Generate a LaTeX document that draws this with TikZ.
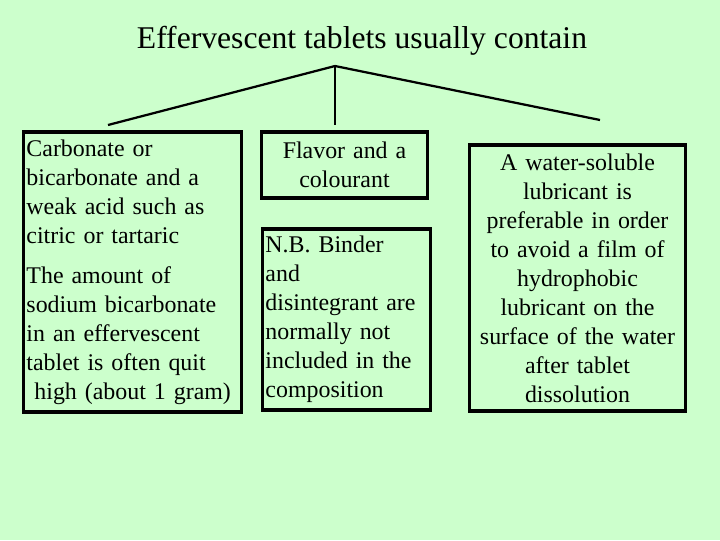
\documentclass[tikz,border=0pt]{standalone}
\usepackage{fontspec}
\setmainfont{Liberation Serif}
\definecolor{slidegreen}{RGB}{204,255,204}
\tikzset{
  box/.style={draw, line width=2.2pt, inner xsep=2pt, inner ysep=0pt, font=\fontsize{17}{20.6}\selectfont},
  branch/.style={line width=1.6pt}
}

\begin{document}
\begin{tikzpicture}[x=0.025cm, y=-0.025cm]
% Background
    \fill[slidegreen] (0,0) rectangle (720,540);
% Title
    \node[font=\fontsize{22.5}{27}\selectfont] (title) at (362,41) {Effervescent tablets usually contain};
% Boxes
    \node[box, minimum width=5.425cm, minimum height=7cm, text width=5.3cm, align=left] (acid) at (132.5,272)
        {Carbonate or\\bicarbonate and a\\weak acid such as\\citric or tartaric\\[8pt]
         The amount of\\sodium bicarbonate\\in an effervescent\\tablet is often quit\\\ high (about 1 gram)};
    \node[box, minimum width=4.125cm, minimum height=1.65cm, text width=4cm, align=center] (flavor) at (344.5,165)
        {Flavor and a\\colourant};
    \node[box, minimum width=4.175cm, minimum height=4.525cm, text width=4.05cm, align=left] (binder) at (346.5,319.5)
        {N.B. Binder\\and\\disintegrant are\\normally not\\included in the\\composition};
    \node[box, minimum width=5.375cm, minimum height=6.65cm, text width=5.25cm, align=center] (lubricant) at (577.5,278)
        {A water-soluble\\lubricant is\\preferable in order\\to avoid a film of\\hydrophobic\\lubricant on the\\surface of the water\\after tablet\\dissolution};
% Branches
    \coordinate (apex) at (335,66);
    \coordinate (leftend) at (108,125);
    \coordinate (midend) at (335,125);
    \coordinate (rightend) at (600,120);
    \draw[branch] (apex) -- (leftend);
    \draw[branch] (apex) -- (midend);
    \draw[branch] (apex) -- (rightend);
\end{tikzpicture}
\end{document}
